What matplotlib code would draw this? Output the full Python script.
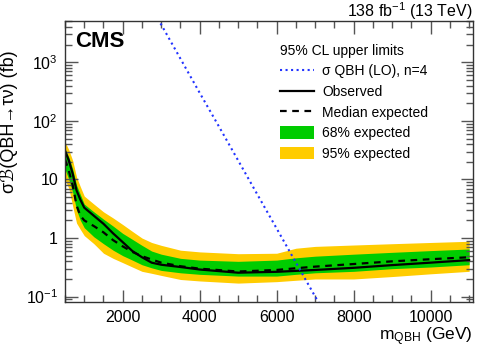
import numpy as np
import matplotlib
matplotlib.use("Agg")
import matplotlib.pyplot as plt
from matplotlib.lines import Line2D
from matplotlib.patches import Patch
from matplotlib.ticker import FixedLocator, FixedFormatter, LogLocator, NullFormatter

plt.rcParams['font.family'] = ['Liberation Sans', 'DejaVu Sans']
plt.rcParams['mathtext.fontset'] = 'custom'
plt.rcParams['mathtext.rm'] = 'Liberation Sans'
plt.rcParams['mathtext.it'] = 'Liberation Sans:italic'
plt.rcParams['mathtext.bf'] = 'Liberation Sans:bold'

# ---- data ----
mass = [500, 600, 700, 800, 900, 1000, 1250, 1500, 1750, 2000, 2250, 2500, 2750,
        3000, 3500, 4000, 5000, 6000, 6500, 7000, 8000, 9000, 10000, 11000]
observed = [31, 21, 12.5, 6.5, 4.5, 3.3, 2.4, 1.75, 1.2, 0.85, 0.6, 0.47, 0.38,
            0.35, 0.32, 0.29, 0.256, 0.265, 0.275, 0.285, 0.31, 0.345, 0.38, 0.42]
expected = [22, 14, 8, 3.6, 2.4, 2.0, 1.6, 1.25, 0.92, 0.72, 0.58, 0.49, 0.43,
            0.38, 0.33, 0.30, 0.268, 0.285, 0.305, 0.325, 0.36, 0.40, 0.435, 0.47]
band68_up = [33, 24, 15, 8, 5.5, 3.8, 2.8, 2.1, 1.6, 1.2, 0.95, 0.75, 0.6,
             0.53, 0.45, 0.42, 0.40, 0.42, 0.46, 0.49, 0.53, 0.57, 0.61, 0.65]
band68_dn = [15, 10, 6, 3.0, 2.0, 1.5, 1.05, 0.8, 0.62, 0.5, 0.42, 0.35, 0.31,
             0.28, 0.255, 0.24, 0.224, 0.224, 0.24, 0.255, 0.27, 0.30, 0.32, 0.35]
band95_up = [44, 32, 21, 11, 7.5, 5.2, 3.8, 2.8, 2.2, 1.7, 1.3, 1.0, 0.84,
             0.75, 0.62, 0.58, 0.54, 0.55, 0.67, 0.72, 0.76, 0.80, 0.84, 0.88]
band95_dn = [10, 7, 3.5, 1.8, 1.4, 1.1, 0.8, 0.55, 0.45, 0.38, 0.32, 0.27, 0.25,
             0.23, 0.196, 0.185, 0.17, 0.18, 0.19, 0.2, 0.2, 0.22, 0.245, 0.27]

theory_mass = [2900, 3000, 3500, 4000, 4500, 5000, 5500, 6000, 6500, 7000, 7100]
theory_xsec = [5500, 4400, 1150, 300, 80, 21, 5.5, 1.45, 0.38, 0.10, 0.077]

xticks = [2000, 4000, 6000, 8000, 10000]
xticklabels = ['2000', '4000', '6000', '8000', '10000']
yticks = [0.1, 1, 10, 100, 1000]
yticklabels = [r'10$^{-1}$', '1', '10', r'10$^{2}$', r'10$^{3}$']

# ---- figure ----
fig = plt.figure(figsize=(4.98, 3.47), dpi=100)
ax = fig.add_axes([65/498, 1 - 301.5/347, 408/498, 280.8/347])

green = '#00cc00'
yellow = '#ffcc00'

ax.fill_between(mass, band95_dn, band95_up, color=yellow, lw=0)
ax.fill_between(mass, band68_dn, band68_up, color=green, lw=0)
ax.plot(mass, expected, color='black', ls=(0, (3, 2.5)), lw=1.6)
ax.plot(mass, observed, color='black', ls='-', lw=1.6)
ax.plot(theory_mass, theory_xsec, color='#2233ff', ls=':', lw=1.5)

ax.set_yscale('log')
ax.set_xlim(500, 11100)
ax.set_ylim(0.0825, 5130)

ax.xaxis.set_major_locator(FixedLocator(xticks))
ax.xaxis.set_major_formatter(FixedFormatter(xticklabels))
ax.xaxis.set_minor_locator(FixedLocator(np.arange(500, 11100, 500)))
ax.yaxis.set_major_locator(FixedLocator(yticks))
ax.yaxis.set_major_formatter(FixedFormatter(yticklabels))
ax.yaxis.set_minor_locator(LogLocator(base=10, subs=np.arange(2, 10)))
ax.yaxis.set_minor_formatter(NullFormatter())

ax.tick_params(which='both', direction='in', top=True, right=True, colors='#555555',
               labelcolor='black', labelsize=11.5)
ax.tick_params(which='major', length=9, width=1)
ax.tick_params(which='minor', length=5, width=1)
ax.tick_params(axis='x', which='major', pad=6)
ax.tick_params(axis='y', which='major', pad=5)
for s in ax.spines.values():
    s.set_color('#333333')
    s.set_linewidth(1.0)

ax.set_ylabel('σℬ(QBH→τν) (fb)', fontsize=13)
ax.yaxis.set_label_coords(-0.115, 0.64)
ax.set_xlabel(r'm$_{\mathrm{QBH}}$ (GeV)', fontsize=12.5, ha='right')
ax.xaxis.set_label_coords(1.0, -0.085)

ax.text(0.026, 0.962, 'CMS', transform=ax.transAxes, fontsize=16, fontweight='bold',
        ha='left', va='top')
fig.text(473/498, 1 - 17/347, r'138 fb$^{-1}$ (13 TeV)', ha='right', va='baseline', fontsize=11.5)

handles = [
    Line2D([], [], color='#2233ff', ls=':', lw=1.5),
    Line2D([], [], color='black', ls='-', lw=1.6),
    Line2D([], [], color='black', ls=(0, (3, 2.5)), lw=1.6),
    Patch(facecolor=green, edgecolor='none'),
    Patch(facecolor=yellow, edgecolor='none'),
]
labels = ['σ QBH (LO), n=4', 'Observed', 'Median expected', '68% expected', '95% expected']
leg = ax.legend(handles, labels, title='95% CL upper limits', loc='upper left',
                bbox_to_anchor=(0.51, 0.942), frameon=False, fontsize=10,
                title_fontsize=10, handlelength=2.45, handleheight=1.0,
                handletextpad=0.6, labelspacing=0.47, borderpad=0, alignment='left')

fig.savefig('out.png', dpi=100)
